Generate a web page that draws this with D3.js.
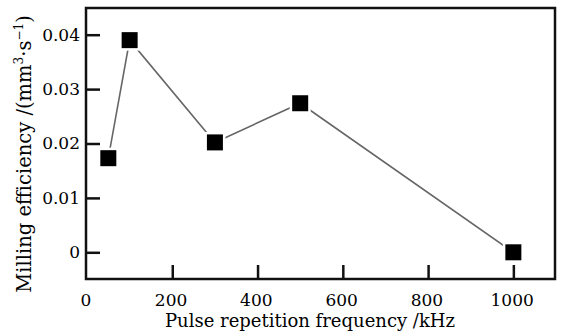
<!DOCTYPE html>
<html>
<head>
<meta charset="utf-8">
<script src="https://cdn.jsdelivr.net/npm/d3@7"></script>
<style>
  html, body { margin: 0; padding: 0; background: #fff; }
  svg { display: block; }
  text { font-family: "DejaVu Serif", "Liberation Serif", serif; fill: #000; }
</style>
</head>
<body>
<svg id="chart" width="566" height="331"></svg>
<script>
// Milling efficiency versus pulse repetition frequency
const frequency = [50, 100, 300, 500, 1000];          // kHz
const efficiency = [0.0173, 0.0390, 0.0202, 0.0274, 0.0]; // mm^3/s
const xTicks = [0, 200, 400, 600, 800, 1000];
const yTicks = [0, 0.01, 0.02, 0.03, 0.04];
const xTitle = "Pulse repetition frequency /kHz";

const svg = d3.select("#chart");
const plotL = 86, plotR = 555, plotT = 8, plotB = 279;

const x = d3.scaleLinear().domain([0, 1100]).range([plotL + 1, plotR + 1]);
const y = d3.scaleLinear().domain([-0.005, 0.045]).range([plotB + 0.5, plotT - 0.5]);

// Frame
svg.append("rect")
  .attr("x", plotL).attr("y", plotT)
  .attr("width", plotR - plotL).attr("height", plotB - plotT)
  .attr("fill", "none").attr("stroke", "#111").attr("stroke-width", 2.5);

// Axes with inward ticks
const xAxis = d3.axisBottom(x).tickValues(xTicks).tickSize(-14).tickPadding(15)
  .tickFormat(d3.format("d"));
const gx = svg.append("g").attr("transform", `translate(0,${plotB})`).call(xAxis);
gx.select(".domain").remove();
gx.selectAll(".tick line").attr("stroke", "#111").attr("stroke-width", 2.5);
gx.selectAll(".tick").filter(d => d === 0).select("line").remove();
gx.selectAll(".tick text").attr("font-size", 17).attr("font-family", "DejaVu Serif")
  .attr("dx", "-0.1em");

const yAxis = d3.axisLeft(y).tickValues(yTicks).tickSize(-14).tickPadding(6)
  .tickFormat(d => d === 0 ? "0" : d3.format(".2f")(d));
const gy = svg.append("g").attr("transform", `translate(${plotL},0)`).call(yAxis);
gy.select(".domain").remove();
gy.selectAll(".tick line").attr("stroke", "#111").attr("stroke-width", 2.5);
gy.selectAll(".tick text").attr("font-size", 17).attr("font-family", "DejaVu Serif");

// Data line
const pts = frequency.map((f, i) => [f, efficiency[i]]);
svg.append("path")
  .datum(pts)
  .attr("d", d3.line().x(d => x(d[0])).y(d => y(d[1])))
  .attr("fill", "none").attr("stroke", "#666").attr("stroke-width", 1.6);

// Square markers with a thin white halo
const s = 16;
svg.selectAll("rect.pt").data(pts).join("rect")
  .attr("class", "pt")
  .attr("x", d => x(d[0]) - s / 2).attr("y", d => y(d[1]) - s / 2)
  .attr("width", s).attr("height", s)
  .attr("fill", "#000").attr("stroke", "#fff").attr("stroke-width", 5)
  .style("paint-order", "stroke");

// Axis titles
svg.append("text")
  .attr("x", 310).attr("y", 327)
  .attr("text-anchor", "middle").attr("font-size", 18)
  .text(xTitle);

const yt = svg.append("text")
  .attr("transform", "translate(31,154) rotate(-90)")
  .attr("text-anchor", "middle").attr("font-size", 19.5);
yt.append("tspan").text("Milling efficiency /(mm");
yt.append("tspan").attr("font-size", 12).attr("dy", -8).text("3");
yt.append("tspan").attr("dy", 8).text("\u00B7s");
yt.append("tspan").attr("font-size", 12).attr("dy", -8).text("\u22121");
yt.append("tspan").attr("dy", 8).text(")");
</script>
</body>
</html>
